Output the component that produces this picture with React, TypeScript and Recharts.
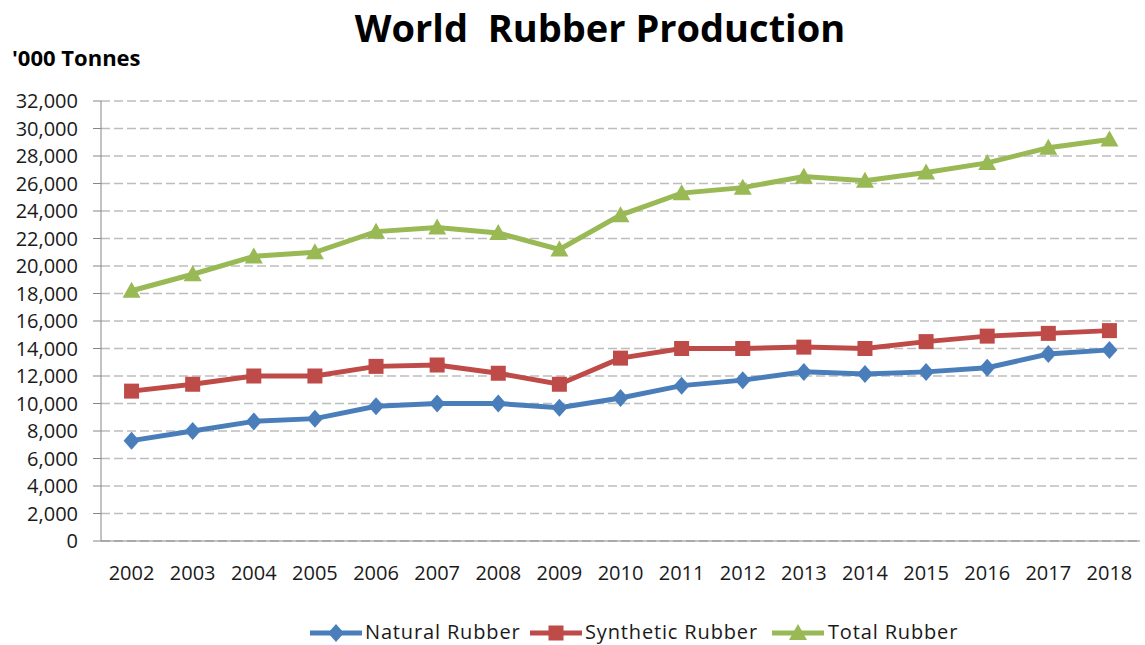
import React from 'react';
import { LineChart, Line, XAxis, YAxis, CartesianGrid } from 'recharts';

const years = [2002, 2003, 2004, 2005, 2006, 2007, 2008, 2009, 2010, 2011, 2012, 2013, 2014, 2015, 2016, 2017, 2018];
const natural = [7300, 8000, 8700, 8900, 9800, 10000, 10000, 9700, 10400, 11300, 11700, 12300, 12150, 12300, 12600, 13600, 13900];
const synthetic = [10900, 11400, 12000, 12000, 12700, 12800, 12200, 11400, 13300, 14000, 14000, 14100, 14000, 14500, 14900, 15100, 15300];
const total = [18200, 19400, 20700, 21000, 22500, 22800, 22400, 21200, 23700, 25300, 25700, 26500, 26200, 26800, 27500, 28600, 29200];
const yTicks = [0, 2000, 4000, 6000, 8000, 10000, 12000, 14000, 16000, 18000, 20000, 22000, 24000, 26000, 28000, 30000, 32000];
const boundaryTicks = [2001.5, 2002.5, 2003.5, 2004.5, 2005.5, 2006.5, 2007.5, 2008.5, 2009.5, 2010.5, 2011.5, 2012.5, 2013.5, 2014.5, 2015.5, 2016.5, 2017.5, 2018.5];

const data = years.map((y, i) => ({ year: y, natural: natural[i], synthetic: synthetic[i], total: total[i] }));

const BLUE = '#4A7EBB';
const RED = '#BE4B48';
const GREEN = '#98B954';
const FONT = "'Open Sans', sans-serif";
const TEXT = '#1a1a1a';
const AXIS = '#868686';

const Diamond = (props: any) => {
  const { cx, cy } = props;
  if (cx == null || cy == null) return null;
  return <polygon points={`${cx},${cy - 9} ${cx + 8},${cy} ${cx},${cy + 9} ${cx - 8},${cy}`} fill={BLUE} />;
};
const Square = (props: any) => {
  const { cx, cy } = props;
  if (cx == null || cy == null) return null;
  return <rect x={cx - 7.5} y={cy - 7.5} width={15} height={15} fill={RED} />;
};
const Triangle = (props: any) => {
  const { cx, cy } = props;
  if (cx == null || cy == null) return null;
  return <polygon points={`${cx},${cy - 9} ${cx + 9},${cy + 7} ${cx - 9},${cy + 7}`} fill={GREEN} />;
};

const legendItems = [
  { label: 'Natural Rubber', color: BLUE, iconX: 336, textX: 365, shape: 'diamond' },
  { label: 'Synthetic Rubber', color: RED, iconX: 556, textX: 585, shape: 'square' },
  { label: 'Total Rubber', color: GREEN, iconX: 798, textX: 828, shape: 'triangle' },
];

export default function App() {
  return (
    <div style={{ position: 'absolute', left: 0, top: 0, width: 1145, height: 645, background: '#fff' }}>
      <LineChart width={1145} height={645} data={data} margin={{ top: 101, right: 5, left: 0, bottom: 66 }}>
        <CartesianGrid vertical={false} stroke="#bdbdbd" strokeDasharray="9 4" strokeWidth={1.5} />
        <XAxis
          xAxisId="bounds"
          dataKey="year"
          type="number"
          domain={[2001.5, 2018.5]}
          ticks={boundaryTicks}
          tick={false}
          tickSize={8}
          height={8}
          stroke={AXIS}
          axisLine={{ stroke: AXIS }}
          tickLine={{ stroke: AXIS }}
          allowDataOverflow
        />
        <XAxis
          xAxisId="labels"
          dataKey="year"
          type="number"
          domain={[2001.5, 2018.5]}
          ticks={years}
          tickSize={0}
          tickMargin={17}
          tickLine={false}
          axisLine={false}
          height={30}
          interval={0}
          tick={{ fill: TEXT, fontSize: 20, fontFamily: FONT }}
          allowDataOverflow
        />
        <YAxis
          domain={[0, 32000]}
          ticks={yTicks}
          interval={0}
          width={101}
          tickSize={8}
          tickMargin={15}
          stroke={AXIS}
          tick={{ fill: TEXT, fontSize: 20, fontFamily: FONT }}
          tickFormatter={(v: number) => v.toLocaleString('en-US')}
        />
        <Line xAxisId="bounds" dataKey="natural" stroke={BLUE} strokeWidth={5} dot={<Diamond />} activeDot={false} isAnimationActive={false} />
        <Line xAxisId="bounds" dataKey="synthetic" stroke={RED} strokeWidth={5} dot={<Square />} activeDot={false} isAnimationActive={false} />
        <Line xAxisId="bounds" dataKey="total" stroke={GREEN} strokeWidth={5} dot={<Triangle />} activeDot={false} isAnimationActive={false} />
      </LineChart>
      <svg width={1145} height={645} style={{ position: 'absolute', left: 0, top: 0, pointerEvents: 'none' }}>
        <text x={600} y={42} textAnchor="middle" fontFamily={FONT} fontWeight={700} fontSize={38} fill="#000" xmlSpace="preserve">World  Rubber Production</text>
        <text x={12} y={66} fontFamily={FONT} fontWeight={700} fontSize={22} fill="#000">'000 Tonnes</text>
        {legendItems.map((it) => (
          <g key={it.label}>
            <line x1={it.iconX - 26} x2={it.iconX + 26} y1={633} y2={633} stroke={it.color} strokeWidth={5} />
            {it.shape === 'diamond' && <Diamond cx={it.iconX} cy={633} />}
            {it.shape === 'square' && <Square cx={it.iconX} cy={633} />}
            {it.shape === 'triangle' && <Triangle cx={it.iconX} cy={633} />}
            <text x={it.textX} y={639} fontFamily={FONT} fontSize={20} letterSpacing={0.85} fill={TEXT}>{it.label}</text>
          </g>
        ))}
      </svg>
    </div>
  );
}
